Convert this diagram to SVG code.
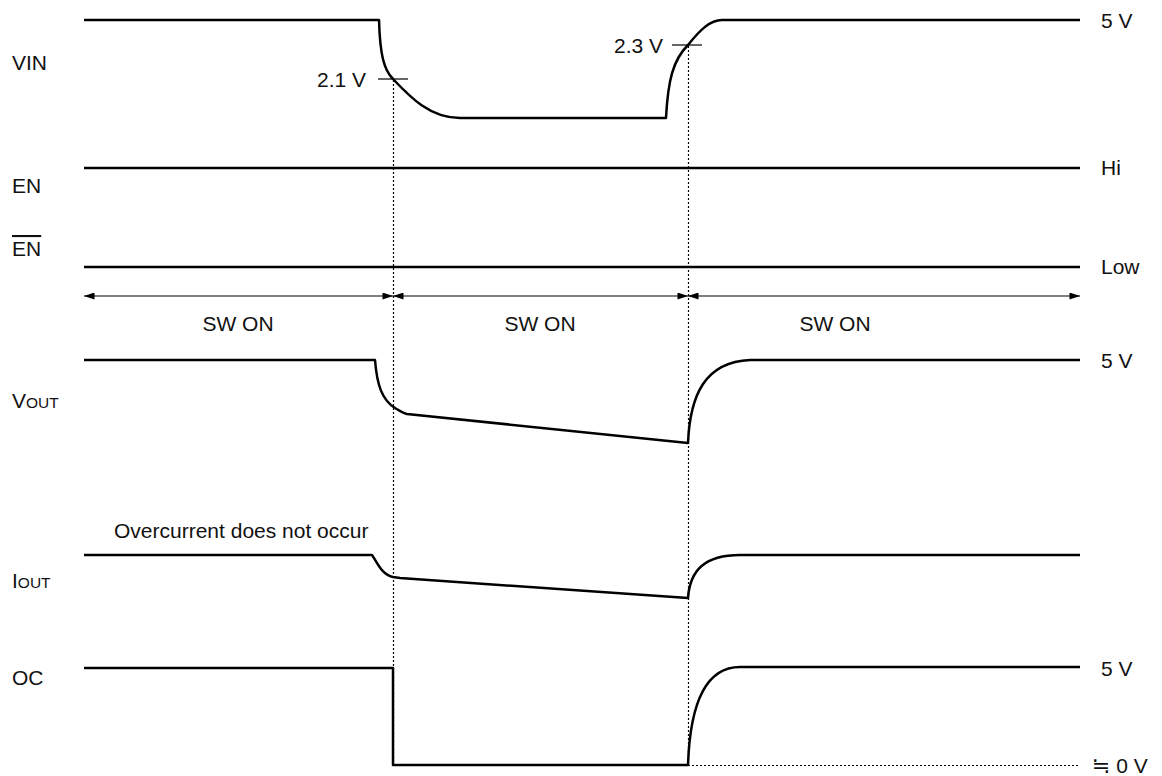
<svg xmlns="http://www.w3.org/2000/svg" width="1162" height="776" viewBox="0 0 1162 776">
<style>
text{font-family:"Liberation Sans",Arial,sans-serif;font-size:21px;fill:#111}
.sig{fill:none;stroke:#000;stroke-width:2.5;stroke-linejoin:round}
.dash{fill:none;stroke:#000;stroke-width:1.2;stroke-dasharray:2,2}
.tick{stroke:#000;stroke-width:1.2}
.arr{stroke:#000;stroke-width:1.2;marker-start:url(#a);marker-end:url(#a)}
.sm{font-size:15.5px}
.sym{font-family:"DejaVu Sans",sans-serif;font-size:22px}
</style>
<defs>
<marker id="a" viewBox="0 0 12 8" refX="12" refY="4" markerWidth="12" markerHeight="7" markerUnits="userSpaceOnUse" orient="auto-start-reverse">
<path d="M0,0 L12,4 L0,8 Z" fill="#000"/>
</marker>
</defs>
<g id="connectors">
<line class="dash" x1="393.5" y1="80" x2="393.5" y2="765"/>
<line class="dash" x1="688.5" y1="46" x2="688.5" y2="765"/>
<line class="dash" x1="688" y1="765.5" x2="1080" y2="765.5"/>
<line class="tick" x1="378" y1="79" x2="408" y2="79"/>
<line class="tick" x1="672" y1="45" x2="702" y2="45"/>
<line class="arr" x1="84" y1="296" x2="393" y2="296"/>
<line class="arr" x1="393" y1="296" x2="688" y2="296"/>
<line class="arr" x1="688" y1="296" x2="1080" y2="296"/>
</g>
<g id="vin">
<path class="sig" d="M84,20 L379,20 C380,55 384,70 393,79 C410,97 430,118 460,118 L666,118 C668,80 673,60 688,45 C700,30 710,20 722,20 L1080,20"/>
<text x="12" y="70">VIN</text>
<text x="1101" y="28">5 V</text>
<text x="366" y="87" text-anchor="end">2.1 V</text>
<text x="663" y="53" text-anchor="end">2.3 V</text>
</g>
<g id="en">
<path class="sig" d="M84,168 L1080,168"/>
<text x="12" y="193">EN</text>
<text x="1101" y="175">Hi</text>
</g>
<g id="enbar">
<path class="sig" d="M84,267 L1080,267"/>
<text x="12" y="256" style="text-decoration:overline">EN</text>
<text x="1101" y="274">Low</text>
</g>
<g id="sw">
<text x="238" y="331" text-anchor="middle">SW ON</text>
<text x="540" y="331" text-anchor="middle">SW ON</text>
<text x="835" y="331" text-anchor="middle">SW ON</text>
</g>
<g id="vout">
<path class="sig" d="M84,360 L375,360 C377,385 382,400 395,408 C400,411 403,413 407,414 L688,443 C690,395 705,362 750,360 L1080,360"/>
<text x="12" y="408">V<tspan class="sm">OUT</tspan></text>
<text x="1101" y="368">5 V</text>
</g>
<g id="iout">
<path class="sig" d="M84,555 L372,555 C377,562 381,574 393,577 L400,578 L688,598 C690,570 705,555 740,555 L1080,555"/>
<text x="12" y="588">I<tspan class="sm">OUT</tspan></text>
<text x="114" y="538">Overcurrent does not occur</text>
</g>
<g id="oc">
<path class="sig" d="M84,668 L393,668 L393,765 L688,765 C690,705 705,667 740,667 L1080,667"/>
<text x="12" y="685">OC</text>
<text x="1101" y="676">5 V</text>
<text x="1092" y="773"><tspan class="sym">≒</tspan> 0 V</text>
</g>
</svg>
